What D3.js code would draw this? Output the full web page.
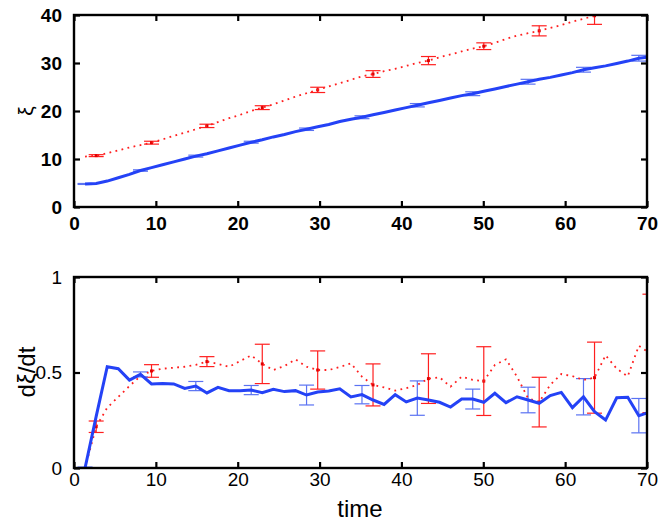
<!DOCTYPE html>
<html>
<head>
<meta charset="utf-8">
<script src="https://d3js.org/d3.v7.min.js"></script>
<style>
  body { margin: 0; background: #fff; }
  svg  { display: block; font-family: "Liberation Sans", Arial, Helvetica, sans-serif; }
</style>
</head>
<body>
<svg id="chart" width="664" height="526"></svg>
<script>
/* ── Data ──────────────────────────────────────────────── */

const time = [
  1.35, 2.71, 4.06, 5.41, 6.77, 8.12, 9.47, 10.82, 12.18, 13.53,
  14.88, 16.24, 17.59, 18.94, 20.30, 21.65, 23.00, 24.35, 25.71, 27.06,
  28.41, 29.77, 31.12, 32.47, 33.83, 35.18, 36.53, 37.88, 39.24, 40.59,
  41.94, 43.30, 44.65, 46.00, 47.36, 48.71, 50.06, 51.41, 52.77, 54.12,
  55.47, 56.83, 58.18, 59.53, 60.89, 62.24, 63.59, 64.94, 66.30, 67.65,
  69.00, 70.36
];

const xiBlue = [
  4.8, 4.9, 5.4, 6.1, 6.8, 7.6, 8.2, 8.8, 9.4, 10.0,
  10.6, 11.1, 11.7, 12.3, 12.9, 13.5, 14.0, 14.6, 15.1, 15.7,
  16.2, 16.7, 17.2, 17.8, 18.3, 18.7, 19.2, 19.7, 20.2, 20.7,
  21.2, 21.7, 22.2, 22.7, 23.2, 23.6, 24.1, 24.6, 25.1, 25.6,
  26.1, 26.6, 27.0, 27.5, 28.0, 28.6, 29.0, 29.4, 29.9, 30.4,
  31.0, 31.3
];

const xiRed = [
  10.5, 10.7, 11.2, 11.8, 12.4, 12.9, 13.4, 14.1, 14.8, 15.5,
  16.2, 16.9, 17.7, 18.5, 19.2, 20.0, 20.7, 21.4, 22.2, 23.0,
  23.7, 24.4, 25.1, 25.8, 26.5, 27.2, 27.7, 28.3, 28.8, 29.4,
  30.0, 30.5, 31.2, 31.8, 32.4, 33.0, 33.5, 34.2, 35.0, 35.7,
  36.2, 36.7, 37.3, 37.9, 38.6, 39.2, 39.85, 40.6, 41.3, 42.0,
  42.7, 43.4
];

const rateBlue = [
  0, 0.27, 0.53, 0.52, 0.46, 0.49, 0.44, 0.443, 0.44, 0.417,
  0.429, 0.393, 0.422, 0.405, 0.405, 0.408, 0.394, 0.412, 0.40, 0.405,
  0.382, 0.398, 0.403, 0.415, 0.372, 0.384, 0.356, 0.333, 0.384, 0.346,
  0.366, 0.356, 0.344, 0.319, 0.361, 0.361, 0.344, 0.391, 0.342, 0.373,
  0.356, 0.339, 0.379, 0.396, 0.316, 0.373, 0.295, 0.251, 0.368, 0.37,
  0.274, 0.293
];

const rateRed = [
  0, 0.216, 0.316, 0.372, 0.429, 0.482, 0.508, 0.52, 0.525, 0.53,
  0.54, 0.557, 0.545, 0.53, 0.56, 0.59, 0.545, 0.513, 0.534, 0.569,
  0.53, 0.513, 0.513, 0.529, 0.548, 0.478, 0.435, 0.422, 0.405, 0.418,
  0.435, 0.468, 0.475, 0.426, 0.478, 0.461, 0.455, 0.539, 0.569, 0.478,
  0.365, 0.345, 0.435, 0.492, 0.481, 0.461, 0.473, 0.59, 0.52, 0.48,
  0.64, 0.60
];

// sample indices carrying error bars
const blueBarIdx = [0, 5, 10, 15, 20, 25, 30, 35, 40, 45, 50];
const redBarIdx  = [1, 6, 11, 16, 21, 26, 31, 36, 41, 46, 51];

const xiBlueErr   = [0.1, 0.15, 0.2, 0.2, 0.25, 0.3, 0.35, 0.4, 0.5, 0.5, 0.6];
const xiRedErr    = [0.2, 0.3, 0.35, 0.4, 0.55, 0.7, 0.85, 0.7, 1.05, 1.8, 2.0];
const rateBlueErr = [0.005, 0.013, 0.024, 0.024, 0.052, 0.048, 0.09, 0.052, 0.067, 0.095, 0.09];
const rateRedErr  = [0.03, 0.033, 0.026, 0.103, 0.1, 0.11, 0.13, 0.18, 0.13, 0.186, 0.31];

const xTicks    = [0, 10, 20, 30, 40, 50, 60, 70];
const xiTicks   = [0, 10, 20, 30, 40];
const rateTicks = [0, 0.5, 1];

/* ── Layout ────────────────────────────────────────────── */

const svg = d3.select('#chart');
const L = 74, R = 647;
const BLUE = '#2442f6', BLUE_BAR = '#5a72f2', RED = '#ff1f1f';
const CAP = 7.5, TICK = 6;

const x = d3.scaleLinear().domain([0, 70]).range([L, R]);

function panel(opt) {
  const y = d3.scaleLinear().domain(opt.domain).range([opt.bottom, opt.top]);
  const g = svg.append('g');

  g.append('clipPath').attr('id', opt.id)
    .append('rect')
    .attr('x', L).attr('y', opt.top)
    .attr('width', R - L).attr('height', opt.bottom - opt.top);

  const plot = g.append('g').attr('clip-path', `url(#${opt.id})`);

  // error bars (drawn under the lines)
  function bars(values, idx, errs, color, marker) {
    const eg = plot.append('g').attr('stroke', color).attr('stroke-width', 1.2).attr('fill', 'none');
    idx.forEach((k, j) => {
      const cx = x(time[k]);
      const lo = y(values[k] - errs[j]), hi = y(values[k] + errs[j]);
      eg.append('line').attr('x1', cx).attr('x2', cx).attr('y1', lo).attr('y2', hi);
      eg.append('line').attr('x1', cx - CAP).attr('x2', cx + CAP).attr('y1', lo).attr('y2', lo);
      eg.append('line').attr('x1', cx - CAP).attr('x2', cx + CAP).attr('y1', hi).attr('y2', hi);
      if (marker) {
        plot.append('rect')
          .attr('x', cx - 1.5).attr('y', y(values[k]) - 1.5)
          .attr('width', 3).attr('height', 3)
          .attr('fill', '#e00000');
      }
    });
  }
  bars(opt.red, redBarIdx, opt.redErr, RED, true);
  bars(opt.blue, blueBarIdx, opt.blueErr, BLUE_BAR, false);

  const line = vals => d3.line()
    .x((d, i) => x(time[i]))
    .y(d => y(d))(vals);

  plot.append('path')
    .attr('d', line(opt.red))
    .attr('fill', 'none')
    .attr('stroke', RED)
    .attr('stroke-width', 1.8)
    .attr('stroke-dasharray', '1.8,4.4');

  plot.append('path')
    .attr('d', line(opt.blue))
    .attr('fill', 'none')
    .attr('stroke', BLUE)
    .attr('stroke-width', 3)
    .attr('stroke-linejoin', 'miter');

  // axes: inward ticks on all four sides
  const fw = opt.bold ? 'bold' : 'normal';
  const styleAxis = sel => {
    sel.select('.domain').remove();
    sel.selectAll('.tick line').attr('stroke', '#000').attr('stroke-width', 2.2);
    sel.selectAll('.tick text')
      .attr('fill', '#000')
      .style('font-size', '19px')
      .style('font-weight', fw)
      .style('font-family', '"Liberation Sans", Arial, Helvetica, sans-serif');
  };

  g.append('g').attr('transform', `translate(0,${opt.bottom})`)
    .call(d3.axisBottom(x).tickValues(xTicks).tickSize(-TICK).tickPadding(opt.xPad + TICK)
      .tickFormat(d3.format('d')))
    .call(styleAxis);
  g.append('g').attr('transform', `translate(0,${opt.top})`)
    .call(d3.axisTop(x).tickValues(xTicks).tickSize(-TICK).tickFormat(''))
    .call(styleAxis);
  g.append('g').attr('transform', `translate(${L},0)`)
    .call(d3.axisLeft(y).tickValues(opt.ticks).tickSize(-TICK).tickPadding(6 + TICK)
      .tickFormat(d => String(d)))
    .call(styleAxis);
  g.append('g').attr('transform', `translate(${R},0)`)
    .call(d3.axisRight(y).tickValues(opt.ticks).tickSize(-TICK).tickFormat(''))
    .call(styleAxis);

  g.append('rect')
    .attr('x', L).attr('y', opt.top)
    .attr('width', R - L).attr('height', opt.bottom - opt.top)
    .attr('fill', 'none').attr('stroke', '#000').attr('stroke-width', 2.4);

  return g;
}

const topPanel = panel({
  id: 'clipTop', top: 15, bottom: 207, domain: [0, 40], ticks: xiTicks,
  blue: xiBlue, red: xiRed, blueErr: xiBlueErr, redErr: xiRedErr,
  bold: true, xPad: 4
});
topPanel.append('text')
  .attr('transform', 'translate(33,111) rotate(-90)')
  .attr('text-anchor', 'middle')
  .style('font-size', '21px')
  .text('ξ');

const botPanel = panel({
  id: 'clipBot', top: 277, bottom: 468, domain: [0, 1], ticks: rateTicks,
  blue: rateBlue, red: rateRed, blueErr: rateBlueErr, redErr: rateRedErr,
  bold: false, xPad: -1
});
botPanel.append('text')
  .attr('transform', 'translate(35,372) rotate(-90)')
  .attr('text-anchor', 'middle')
  .style('font-size', '24px')
  .text('dξ/dt');
botPanel.append('text')
  .attr('x', 360).attr('y', 517)
  .attr('text-anchor', 'middle')
  .style('font-size', '24px')
  .text('time');
</script>
</body>
</html>
